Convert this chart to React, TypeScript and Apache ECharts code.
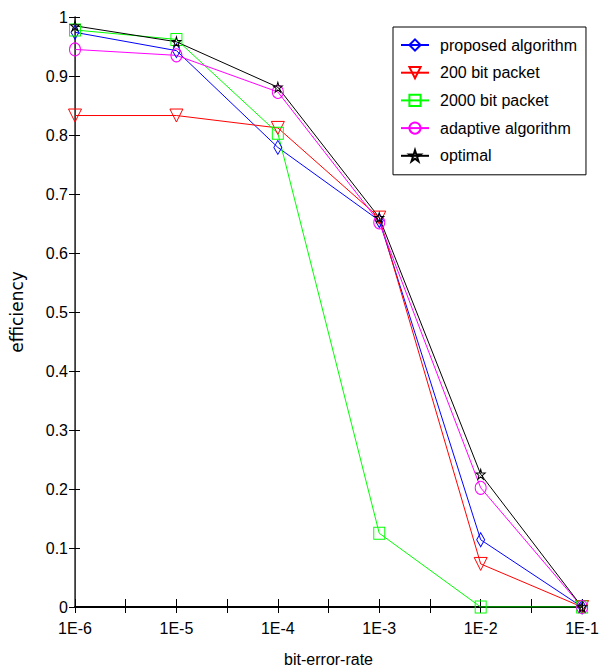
import React, { useEffect, useRef } from "react";
import * as echarts from "echarts";

const xTickLabels = ["1E-6", "1E-5", "1E-4", "1E-3", "1E-2", "1E-1"];
const xIndex = [0, 1, 2, 3, 4, 5];
const yTickLabels = ["0", "0.1", "0.2", "0.3", "0.4", "0.5", "0.6", "0.7", "0.8", "0.9", "1"];

const proposed = [0.974, 0.943, 0.779, 0.655, 0.114, 0.0];
const bit200 = [0.833, 0.833, 0.812, 0.66, 0.073, 0.0];
const bit2000 = [0.978, 0.962, 0.803, 0.125, 0.0, 0.0];
const adaptive = [0.945, 0.935, 0.873, 0.652, 0.202, 0.0];
const optimal = [0.985, 0.958, 0.881, 0.66, 0.225, 0.0];

const seriesNames = [
  "proposed algorithm",
  "200 bit packet",
  "2000 bit packet",
  "adaptive algorithm",
  "optimal",
];

const FONT = "'Liberation Sans', Arial, sans-serif";
const STAR =
  "path://M50,0 L61.2,34.5 L97.6,34.5 L68.2,55.9 L79.4,90.5 L50,69.1 L20.6,90.5 L31.8,55.9 L2.4,34.5 L38.8,34.5 Z";
const TRI_DOWN = "path://M0,0 L100,0 L50,100 Z";

export default function App() {
  const ref = useRef<HTMLDivElement>(null);
  useEffect(() => {
    if (!ref.current) return;
    const chart = echarts.init(ref.current, undefined, { renderer: "svg" });
    const mk = (
      name: string,
      vals: number[],
      color: string,
      symbol: string,
      size: number | number[]
    ) => ({
      name,
      type: "line",
      xAxisIndex: 0,
      yAxisIndex: 0,
      data: xIndex.map((x, i) => [x, vals[i]]),
      symbol,
      symbolSize: size,
      showAllSymbol: true,
      lineStyle: { color, width: 1 },
      itemStyle: { color: "rgba(0,0,0,0)", borderColor: color, borderWidth: 1 },
      emphasis: { disabled: true },
    });
    const axisLineStyle = { color: "#000", width: 1 };
    chart.setOption({
      animation: false,
      backgroundColor: "#fff",
      grid: { left: 63, top: 17, right: 8, bottom: 63, containLabel: false },
      legend: {
        orient: "vertical",
        left: 393,
        top: 27,
        data: seriesNames,
        itemWidth: 28,
        itemHeight: 14,
        itemGap: 7.7,
        padding: [8, 9, 9, 7],
        borderColor: "#000",
        borderWidth: 1,
        backgroundColor: "#fff",
        textStyle: {
          fontFamily: FONT,
          fontSize: 16,
          color: "#000",
          lineHeight: 20,
          padding: [0, 0, 0, 6],
        },
      },
      xAxis: [
        {
          type: "value",
          min: 0,
          max: 5,
          interval: 0.5,
          position: "bottom",
          name: "bit-error-rate",
          nameLocation: "middle",
          nameGap: 44,
          nameTextStyle: { fontFamily: FONT, fontSize: 16, color: "#000" },
          axisLine: { lineStyle: { color: "#000", width: 2 } },
          axisTick: { inside: true, length: 8, lineStyle: axisLineStyle },
          axisLabel: {
            fontFamily: FONT,
            fontSize: 16,
            color: "#000",
            margin: 13,
            formatter: (v: number) =>
              Number.isInteger(v) ? xTickLabels[v] : "",
          },
          splitLine: { show: false },
        },
        {
          type: "value",
          min: 0,
          max: 5,
          interval: 0.5,
          position: "top",
          axisLine: { lineStyle: axisLineStyle },
          axisTick: { inside: true, length: 6, lineStyle: axisLineStyle },
          axisLabel: { show: false },
          splitLine: { show: false },
        },
      ],
      yAxis: [
        {
          type: "value",
          min: 0,
          max: 1,
          interval: 0.1,
          position: "left",
          name: "efficiency",
          nameLocation: "middle",
          nameGap: 50,
          nameTextStyle: { fontFamily: "'DejaVu Sans', sans-serif", fontSize: 17, color: "#000" },
          axisLine: { lineStyle: { color: "#555", width: 1 } },
          axisTick: { inside: true, length: 5, lineStyle: axisLineStyle },
          axisLabel: {
            fontFamily: FONT,
            fontSize: 16,
            color: "#000",
            margin: 7,
            formatter: (v: number) => yTickLabels[Math.round(v * 10)],
          },
          splitLine: { show: false },
        },
        {
          type: "value",
          min: 0,
          max: 1,
          interval: 0.1,
          position: "right",
          axisLine: { lineStyle: { color: "#333", width: 1.5 } },
          axisTick: { inside: true, length: 6, lineStyle: axisLineStyle },
          axisLabel: { show: false },
          splitLine: { show: false },
        },
      ],
      series: [
        mk(seriesNames[0], proposed, "#0000ff", "diamond", [8, 14]),
        mk(seriesNames[1], bit200, "#ff0000", TRI_DOWN, [13, 13]),
        mk(seriesNames[2], bit2000, "#00ff00", "rect", [11, 12]),
        mk(seriesNames[3], adaptive, "#ff00ff", "circle", [11, 13]),
        mk(seriesNames[4], optimal, "#000000", STAR, [9, 10]),
      ],
    });
    return () => chart.dispose();
  }, []);
  return (
    <div
      ref={ref}
      style={{ position: "absolute", left: 0, top: 0, width: 602, height: 672 }}
    />
  );
}
